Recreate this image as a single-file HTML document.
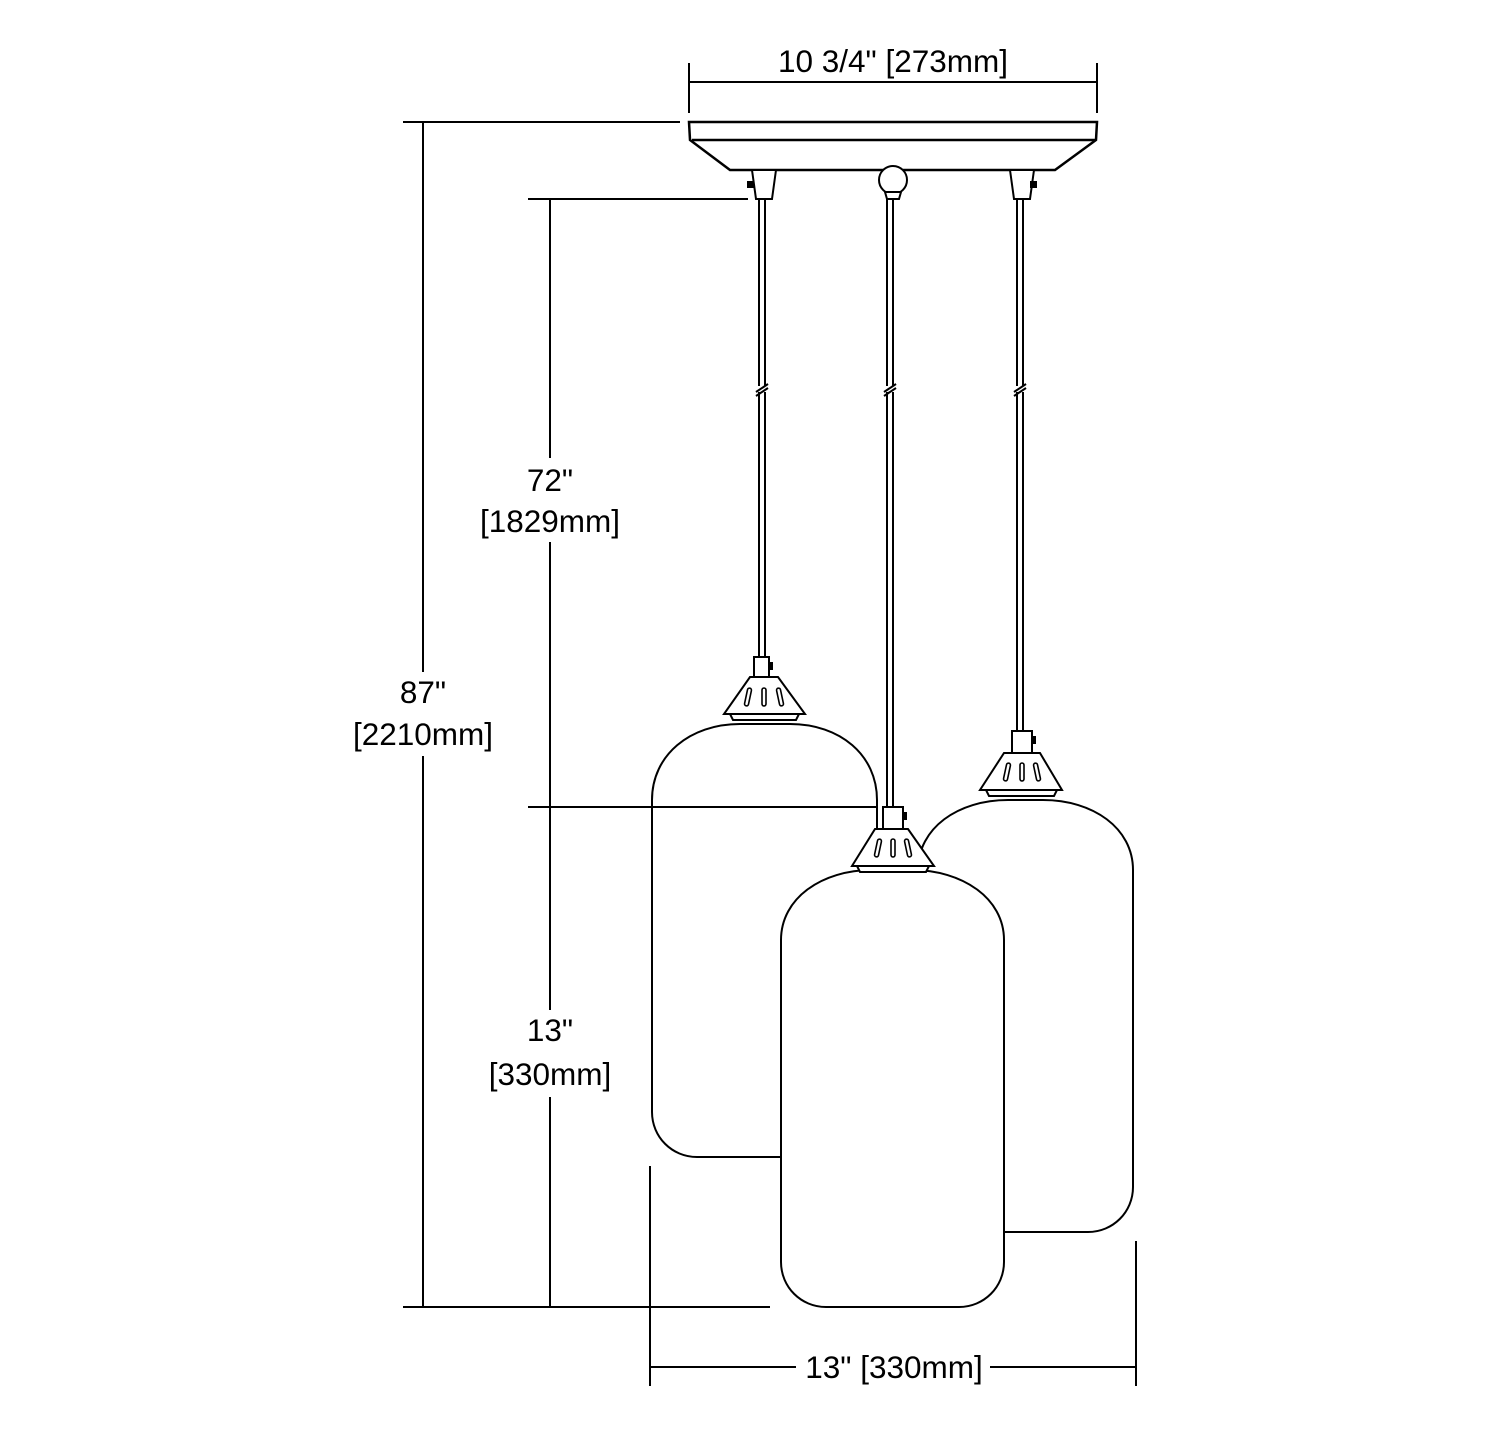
<!DOCTYPE html>
<html><head><meta charset="utf-8"><style>html,body{margin:0;padding:0;background:#fff}svg{display:block}</style></head>
<body>
<svg width="1500" height="1455" viewBox="0 0 1500 1455" xmlns="http://www.w3.org/2000/svg" font-family="Liberation Sans, Arial, sans-serif" font-size="31.5" fill="none" stroke="#000" stroke-width="2">
<!-- top dim -->
<line x1="689" y1="63" x2="689" y2="113"/>
<line x1="1097" y1="63" x2="1097" y2="113"/>
<line x1="689" y1="82" x2="1097" y2="82"/>
<!-- canopy -->
<path d="M689,122 L1097,122 L1096,140 L1055,170 L730,170 L690,140 Z" fill="#fff" stroke-width="2.5"/>
<line x1="692" y1="140" x2="1095" y2="140" stroke-width="2.5"/>
<!-- canopy fittings -->
<path d="M752,170 L776,170 L772,199 L756,199 Z" fill="#fff"/>
<rect x="747" y="181" width="7" height="7" fill="#000" stroke="none"/>
<path d="M1010,170 L1034,170 L1030,199 L1014,199 Z" fill="#fff"/>
<rect x="1030" y="181" width="7" height="7" fill="#000" stroke="none"/>
<circle cx="893" cy="180" r="14" fill="#fff"/>
<path d="M885,192 L901,192 L899,199 L887,199 Z" fill="#fff"/>
<!-- cords -->
<g stroke-width="2">
<line x1="759" y1="199" x2="759" y2="657"/><line x1="765" y1="199" x2="765" y2="657"/>
<line x1="887" y1="199" x2="887" y2="807"/><line x1="893" y1="199" x2="893" y2="807"/>
<line x1="1017" y1="199" x2="1017" y2="731"/><line x1="1023" y1="199" x2="1023" y2="731"/>
</g>
<g fill="#fff" stroke="none"><rect x="755" y="386" width="14" height="6"/><rect x="883" y="386" width="14" height="6"/><rect x="1013" y="386" width="14" height="6"/></g>
<g stroke-width="2"><line x1="756" y1="392" x2="768" y2="384"/><line x1="756" y1="396" x2="768" y2="388"/>
<line x1="884" y1="392" x2="896" y2="384"/><line x1="884" y1="396" x2="896" y2="388"/>
<line x1="1014" y1="392" x2="1026" y2="384"/><line x1="1014" y1="396" x2="1026" y2="388"/></g>

<!-- dimension lines left -->
<line x1="403" y1="122" x2="680" y2="122"/>
<line x1="403" y1="1307" x2="770" y2="1307"/>
<line x1="423" y1="122" x2="423" y2="672"/>
<line x1="423" y1="756" x2="423" y2="1307"/>
<line x1="528" y1="199" x2="748" y2="199"/>
<line x1="550" y1="199" x2="550" y2="458"/>
<line x1="550" y1="542" x2="550" y2="1010"/>
<line x1="550" y1="1097" x2="550" y2="1307"/>

<!-- left lamp -->
<path d="M652,800 C652,755 690,724 740,724 L790,724 C840,724 877,755 877,800 L877,1157 L697,1157 C672,1157 652,1137 652,1112 Z" fill="#fff"/>
<line x1="528" y1="807" x2="877" y2="807"/>
<g fill="#fff">
<rect x="754" y="657" width="15" height="20"/>
<path d="M750,677 L778,677 L805,714 L724,714 Z"/>
<path d="M730,714 L799,714 L796,720 L733,720 Z"/>
</g>
<rect x="769" y="662" width="4" height="8" fill="#000" stroke="none"/>
<g stroke-width="1.6"><rect x="746" y="688" width="4" height="18" rx="2" transform="rotate(12 748 697)"/><rect x="762" y="688" width="4" height="18" rx="2"/><rect x="778" y="688" width="4" height="18" rx="2" transform="rotate(-12 780 697)"/></g>

<!-- right lamp -->
<path d="M918,870 C918,828 958,800 1008,800 L1043,800 C1093,800 1133,828 1133,870 L1133,1187 C1133,1212 1113,1232 1088,1232 L1005,1232 L918,1232 Z" fill="#fff"/>
<g fill="#fff">
<rect x="1012" y="731" width="20" height="22"/>
<path d="M1004,753 L1040,753 L1062,790 L980,790 Z"/>
<path d="M986,790 L1057,790 L1054,796 L989,796 Z"/>
</g>
<rect x="1032" y="736" width="4" height="8" fill="#000" stroke="none"/>
<g stroke-width="1.6"><rect x="1005" y="763" width="4" height="18" rx="2" transform="rotate(12 1007 772)"/><rect x="1020" y="763" width="4" height="18" rx="2"/><rect x="1035" y="763" width="4" height="18" rx="2" transform="rotate(-12 1037 772)"/></g>

<!-- middle lamp -->
<path d="M781,940 C781,898 822,870 872,870 L912,870 C962,870 1004,898 1004,940 L1004,1262 C1004,1287 984,1307 959,1307 L826,1307 C801,1307 781,1287 781,1262 Z" fill="#fff"/>
<g fill="#fff">
<rect x="883" y="807" width="20" height="22"/>
<path d="M875,829 L908,829 L934,866 L852,866 Z"/>
<path d="M857,866 L929,866 L926,872 L860,872 Z"/>
</g>
<rect x="903" y="812" width="4" height="8" fill="#000" stroke="none"/>
<g stroke-width="1.6"><rect x="876" y="839" width="4" height="18" rx="2" transform="rotate(12 878 848)"/><rect x="891" y="839" width="4" height="18" rx="2"/><rect x="906" y="839" width="4" height="18" rx="2" transform="rotate(-12 908 848)"/></g>

<!-- bottom dim -->
<line x1="650" y1="1166" x2="650" y2="1386"/>
<line x1="1136" y1="1241" x2="1136" y2="1386"/>
<line x1="650" y1="1367" x2="796" y2="1367"/>
<line x1="990" y1="1367" x2="1136" y2="1367"/>

<g fill="#000" stroke="none" text-anchor="middle">
<text x="893" y="72">10 3/4" [273mm]</text>
<text x="423" y="703">87"</text>
<text x="423" y="745">[2210mm]</text>
<text x="550" y="491">72"</text>
<text x="550" y="532">[1829mm]</text>
<text x="550" y="1041">13"</text>
<text x="550" y="1085">[330mm]</text>
<text x="894" y="1378">13" [330mm]</text>
</g>
</svg>
</body></html>
